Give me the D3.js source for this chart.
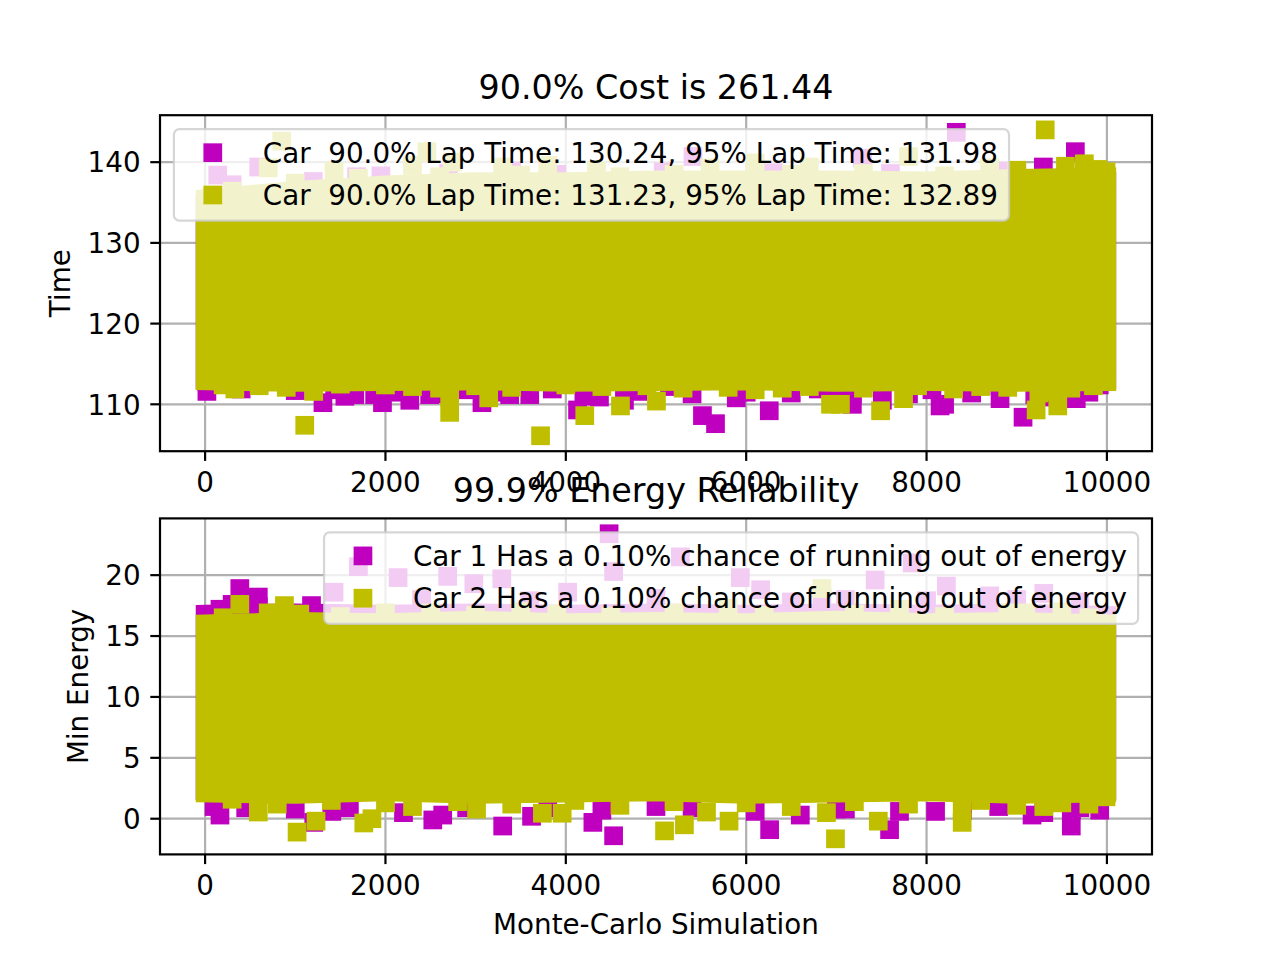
<!DOCTYPE html>
<html><head><meta charset="utf-8">
<script src="https://cdn.jsdelivr.net/npm/d3@7"></script>
<style>
body{margin:0;background:#fff}
svg{display:block}
text{font-family:"DejaVu Sans",sans-serif;fill:#000}
</style>
</head><body><div id="chart"></div>
<script>
// ---------------- data ----------------
const titleTop = "90.0% Cost is 261.44";
const titleBottom = "99.9% Energy Reliability";
const xLabel = "Monte-Carlo Simulation";
const yLabelTop = "Time";
const yLabelBottom = "Min Energy";
const legendTop = ["Car  90.0% Lap Time: 130.24, 95% Lap Time: 131.98",
                   "Car  90.0% Lap Time: 131.23, 95% Lap Time: 132.89"];
const legendBottom = ["Car 1 Has a 0.10% chance of running out of energy",
                      "Car 2 Has a 0.10% chance of running out of energy"];
const xTicks = [0, 2000, 4000, 6000, 8000, 10000];
const yTicksTop = [110, 120, 130, 140];
const yTicksBottom = [0, 5, 10, 15, 20];
const seriesColors = ["#bf00bf", "#bfbf00"];

// dense core of each cloud (estimated envelope of marker centres)
const coreX = [0, 1000, 2000, 3000, 4000, 5000, 6000, 7000, 8000, 9000, 9999];
const car1TimeUpper = [135.0, 136.0, 136.6, 137.0, 137.0, 137.2, 137.2, 137.2, 137.1, 137.4, 137.6];
const car1TimeLower = [113.0, 112.9, 113.0, 113.1, 112.9, 113.0, 113.1, 112.9, 113.0, 112.9, 113.0];
const car2TimeUpper = [135.5, 136.5, 137.2, 137.6, 137.6, 137.8, 137.8, 137.8, 137.7, 138.0, 138.2];
const car2TimeLower = [112.9, 112.7, 112.8, 112.9, 112.7, 112.8, 112.9, 112.7, 112.8, 112.7, 112.8];
const car1EnergyUpper = [16.8, 16.9, 16.8, 16.9, 16.8, 16.9, 16.8, 16.9, 16.8, 16.9, 16.7];
const car1EnergyLower = [2.3, 2.2, 2.4, 2.2, 2.3, 2.4, 2.2, 2.3, 2.4, 2.2, 2.3];
const car2EnergyUpper = [16.0, 16.2, 16.1, 16.3, 16.1, 16.2, 16.1, 16.3, 16.1, 16.2, 16.0];
const car2EnergyLower = [2.1, 2.0, 2.2, 2.0, 2.1, 2.2, 2.0, 2.1, 2.2, 2.0, 2.1];

// individual outlying runs [simulation, value]
const car1TimePoints = [
  [20,112.8],[20,111.6],[60,113.5],[1307,110.2],[1437,111.8],[1660,111.2],[1750,113.3],[1880,111.2],
  [1967,110.2],[2270,110.5],[2490,111.2],[2900,111.8],[3070,110.2],[3377,111.2],[3600,111.2],[3850,111.9],
  [4130,109.3],[4373,110.9],[4650,110.5],[5150,112.2],[5515,108.6],[5660,107.6],[5890,110.8],[6256,109.2],
  [6500,111.4],[6800,111.9],[7177,111.2],[7177,110.0],[7510,110.5],[8060,111.8],[8150,109.8],[8200,110.0],
  [8815,112.3],[8815,110.7],[9070,108.4],[9200,111.2],[9660,110.7],[9915,112.4],[9990,113.6],
  [400,111.9],[1000,111.7],[1550,111.0],[2100,111.5],[2600,111.3],[3200,111.5],[4200,111.0],[4800,111.6],
  [5400,111.3],[6000,111.5],[7000,111.0],[7800,111.3],[8500,111.4],[9400,110.9],[9800,111.5],
  [140,138.4],[595,139.4],[1680,138.2],[1950,138.3],[3400,138.9],[4700,137.4],[5080,138.8],[5410,140.7],
  [7290,140.5],[8330,143.7],[8410,137.7],[9000,138.6],[9295,139.4],[9650,141.3],[9990,137.5],[9990,135.0],
  [300,137.2],[1200,137.6],[2700,138.6],[3900,138.5],[6300,138.7],[7600,138.6],[8800,138.9]
];
const car2TimePoints = [
  [330,111.9],[1105,107.4],[1205,111.6],[2712,110.9],[2712,109.0],[3145,110.8],[3720,106.1],[4210,108.6],
  [4606,109.8],[5005,110.4],[6935,110.0],[7045,110.0],[7490,109.2],[7745,110.7],[9215,109.3],[9245,111.4],
  [9455,109.8],[600,112.3],[2000,112.4],[2300,112.2],[5300,112.0],[5800,112.1],[6100,111.8],[6400,112.0],
  [8300,111.9],[8600,112.2],[9600,112.0],[9850,112.3],
  [200,112.4],[900,112.1],[1500,112.5],[2600,112.0],[3000,112.3],[3400,112.1],[4000,112.4],[4400,112.2],
  [4900,112.3],[6700,112.2],[7300,112.0],[7900,112.3],[8900,112.1],[9400,111.6],
  [700,139.3],[850,142.6],[1430,138.9],[2300,139.6],[2460,141.3],[2740,140.0],[3300,139.4],[3800,139.6],
  [4340,139.0],[5600,139.3],[6100,139.9],[6700,139.4],[7800,140.7],[8700,139.3],[9316,144.0],[9540,139.5],
  [9750,139.8],[9990,138.8],
  [300,136.4],[1000,137.4],[1700,138.0],[2600,138.2],[3500,138.4],[4600,138.2],[5200,138.5],[6500,138.5],
  [7300,138.6],[8200,138.3],[9000,139.0],[9900,139.1]
];
const car1EnergyPoints = [
  [165,17.2],[300,17.6],[385,18.9],[590,18.2],[590,17.4],[1180,17.5],[1430,18.6],[1700,20.7],[2140,19.8],
  [2690,19.9],[2980,19.3],[3290,19.7],[4020,18.6],[4480,23.4],[4530,20.3],[5270,21.5],[5935,19.8],[6160,18.8],
  [6840,18.2],[7430,19.6],[7840,21.0],[8220,19.1],[8700,18.3],[9300,18.5],[9960,15.2],[9960,16.5],
  [2400,18.0],[3600,17.9],[5000,18.1],[6500,17.8],[7100,18.0],[8000,17.9],[9000,18.0],[9700,17.8],
  [165,0.3],[1205,-0.3],[1405,0.6],[2525,-0.1],[2635,0.3],[3300,-0.6],[3620,0.2],[4300,-0.3],[4530,-1.4],
  [5000,1.0],[6260,-0.9],[7100,0.8],[7590,-0.9],[8100,0.6],[8800,1.0],[9170,0.3],[9605,-0.6],[9605,0.7],[9920,0.7],
  [100,1.0],[450,0.9],[1000,0.8],[1600,0.9],[2200,0.5],[2900,0.9],[3800,0.9],[4400,0.7],[5400,0.9],[6100,0.6],
  [6600,0.3],[7000,0.8],[7700,0.6],[8400,0.7],[9300,0.5],[9700,0.9]
];
const car2EnergyPoints = [
  [385,17.6],[880,17.5],[1050,16.8],[2500,16.9],[3900,16.8],[5800,17.3],[6840,18.9],[7700,17.2],[8900,16.9],[9500,17.0],
  [200,16.5],[700,16.9],[1500,16.6],[2000,16.9],[3000,16.7],[3500,17.0],[4500,16.6],[5200,16.9],[6200,16.7],
  [7200,16.8],[8200,16.6],[9100,16.9],[9800,16.5],
  [590,0.55],[1020,-1.1],[1230,-0.2],[1760,-0.35],[1850,0.0],[3010,0.8],[3740,0.45],[3960,0.45],[5095,-1.0],
  [5315,-0.5],[5560,0.55],[5810,-0.2],[6890,0.5],[6990,-1.65],[7465,-0.2],[8395,-0.3],[8395,0.8],[9300,1.0],
  [9800,1.2],[9990,1.8],
  [300,1.6],[800,1.2],[1400,1.5],[2000,1.3],[2300,1.0],[2800,1.4],[3400,1.2],[4100,1.5],[4600,1.1],[5200,1.4],
  [6000,1.3],[6500,1.0],[7200,1.4],[7800,1.2],[8600,1.5],[9000,1.1],[9500,1.3]
];

// ---------------- layout ----------------
const W = 1280, H = 960;
const FS = 27.78;        // 10pt at 200 dpi
const M = 18.7;          // marker side
const axL = 160, axR = 1152;
const svg = d3.select("#chart").append("svg").attr("width", W).attr("height", H);

const x = d3.scaleLinear().domain([-500, 10499.95]).range([axL, axR]);

const panels = [
  {top:115.2, bottom:451.2, domain:[104.19,145.82], ticks:yTicksTop, title:titleTop, ylabel:yLabelTop, ylabelX:69.9,
   series:[{up:car1TimeUpper, lo:car1TimeLower, pts:car1TimePoints},{up:car2TimeUpper, lo:car2TimeLower, pts:car2TimePoints}],
   legend:legendTop, legendAnchor:"left"},
  {top:518.4, bottom:854.4, domain:[-2.93,24.66], ticks:yTicksBottom, title:titleBottom, ylabel:yLabelBottom, ylabelX:87.8,
   series:[{up:car1EnergyUpper, lo:car1EnergyLower, pts:car1EnergyPoints},{up:car2EnergyUpper, lo:car2EnergyLower, pts:car2EnergyPoints}],
   legend:legendBottom, legendAnchor:"right", xlabel:xLabel}
];

panels.forEach((p, pi) => {
  const y = d3.scaleLinear().domain(p.domain).range([p.bottom, p.top]);
  const g = svg.append("g");
  const clipId = "clip" + pi;
  svg.append("clipPath").attr("id", clipId).append("rect")
    .attr("x", axL).attr("y", p.top).attr("width", axR - axL).attr("height", p.bottom - p.top);

  // grid
  const grid = g.append("g").attr("stroke", "#b0b0b0").attr("stroke-width", 2.2);
  xTicks.forEach(t => grid.append("line").attr("x1", x(t)).attr("x2", x(t)).attr("y1", p.top).attr("y2", p.bottom));
  p.ticks.forEach(t => grid.append("line").attr("x1", axL).attr("x2", axR).attr("y1", y(t)).attr("y2", y(t)));

  // data
  const data = g.append("g").attr("clip-path", `url(#${clipId})`);
  const area = d3.area().x(d => x(d.x)).y0(d => y(d.lo)).y1(d => y(d.up));
  p.series.forEach((s, si) => {
    const col = seriesColors[si];
    const rows = coreX.map((cx, i) => ({x: cx, up: s.up[i], lo: s.lo[i]}));
    data.append("path").attr("d", area(rows)).attr("fill", col).attr("stroke", col)
      .attr("stroke-width", M).attr("stroke-linejoin", "miter");
    data.selectAll(null).data(s.pts).enter().append("rect")
      .attr("x", d => x(d[0]) - M/2).attr("y", d => y(d[1]) - M/2)
      .attr("width", M).attr("height", M).attr("fill", col);
  });

  // spines
  g.append("rect").attr("x", axL).attr("y", p.top).attr("width", axR - axL).attr("height", p.bottom - p.top)
    .attr("fill", "none").attr("stroke", "#000").attr("stroke-width", 2.2);

  // ticks
  const tk = g.append("g").attr("stroke", "#000").attr("stroke-width", 2.2);
  xTicks.forEach(t => tk.append("line").attr("x1", x(t)).attr("x2", x(t)).attr("y1", p.bottom).attr("y2", p.bottom + 9.7));
  p.ticks.forEach(t => tk.append("line").attr("x1", axL - 9.7).attr("x2", axL).attr("y1", y(t)).attr("y2", y(t)));
  xTicks.forEach(t => g.append("text").attr("x", x(t)).attr("y", p.bottom + 40.5).attr("text-anchor", "middle")
    .attr("font-size", FS).text(t));
  p.ticks.forEach(t => g.append("text").attr("x", axL - 19.4).attr("y", y(t) + 10.3).attr("text-anchor", "end")
    .attr("font-size", FS).text(t));

  // y label
  const cy = (p.top + p.bottom) / 2;
  g.append("text").attr("transform", `translate(${p.ylabelX},${cy}) rotate(-90)`).attr("text-anchor", "middle")
    .attr("font-size", FS).text(p.ylabel);

  // legend
  const lg = g.append("g");
  const texts = p.legend.map(t => lg.append("text").attr("font-size", FS).attr("xml:space", "preserve")
    .style("white-space", "pre").text(t));
  const tw = d3.max(texts, t => t.node().getComputedTextLength());
  const pad = 0.4 * FS, hl = 2.0 * FS, htp = 0.8 * FS;
  const bw = pad + hl + htp + tw + pad, bh = 91.6;
  const bx = p.legendAnchor === "left" ? axL + 0.5 * FS : axR - 0.5 * FS - bw;
  const by = p.top + 0.5 * FS;
  lg.insert("rect", "text").attr("x", bx).attr("y", by).attr("width", bw).attr("height", bh)
    .attr("rx", 0.2 * FS).attr("ry", 0.2 * FS)
    .attr("fill", "#fff").attr("fill-opacity", 0.8).attr("stroke", "#cccccc").attr("stroke-opacity", 0.8)
    .attr("stroke-width", 2.2);
  texts.forEach((t, i) => {
    const rc = by + 23.6 + i * 42.3;
    t.attr("x", bx + pad + hl + htp).attr("y", rc + 10.3);
    lg.append("rect").attr("x", bx + pad + hl / 2 - M / 2).attr("y", rc - M / 2).attr("width", M).attr("height", M)
      .attr("fill", seriesColors[i]);
  });

  // title
  g.append("text").attr("x", (axL + axR) / 2).attr("y", p.top - 16.7).attr("text-anchor", "middle")
    .attr("font-size", 33.33).text(p.title);

  if (p.xlabel) {
    g.append("text").attr("x", (axL + axR) / 2).attr("y", 933.5).attr("text-anchor", "middle")
      .attr("font-size", FS).text(p.xlabel);
  }
});
</script>
</body></html>
